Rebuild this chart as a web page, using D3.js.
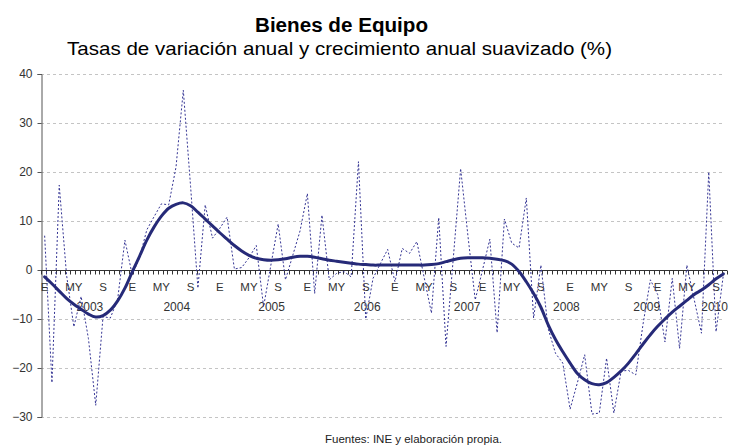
<!DOCTYPE html>
<html>
<head>
<meta charset="utf-8">
<script src="https://cdn.jsdelivr.net/npm/d3@7"></script>
<style>
  html, body { margin: 0; padding: 0; background: #ffffff; }
  svg { display: block; font-family: "Liberation Sans", Arial, sans-serif; }
</style>
</head>
<body>
<svg id="chart" width="730" height="446"></svg>
<script>
// ---------------- DATA ----------------
const startYear = 2003;
const nMonths = 94; // Jan 2003 .. Oct 2010
const categories = d3.range(nMonths).map(i => {
  const y = startYear + Math.floor(i / 12), m = (i % 12) + 1;
  return y + "-" + String(m).padStart(2, "0");
});

// Tasa de variación anual (mensual), %
const monthlyRate = [
   7.0, -23.0, 17.3, -1.0, -11.6, -5.4, -14.0, -27.6, -9.5, -9.8, -6.0, 6.1,
  -1.0,   2.5,  8.2, 10.9,  13.5, 13.3,  21.0,  36.7, 17.0, -3.7, 13.3, 6.5,
   8.5,  10.8,  0.2,  0.5,   2.5,  5.0,  -7.5,   1.0,  9.4, -2.0,  3.0, 8.0,
  15.6,  -4.8, 11.2, -2.0,  -0.7, -0.3,  -1.4,  22.1, -10.0, -1.7, 1.3, 4.2,
  -2.4,   4.4,  3.4,  5.8,  -1.5, -8.8,  10.7, -15.6,  2.5, 20.7,  7.0, -6.1,
   0.0,   6.3, -12.8, 10.4,  5.5,  4.5,  14.7,  -9.8,  1.0, -12.0, -17.0, -19.0,
 -28.4, -23.0, -17.3, -29.4, -29.2, -18.0, -29.2, -20.6, -20.5, -21.4, -11.0, -2.0,
  -5.0, -14.7,  -1.7, -16.0,  1.0,  -6.0, -12.9,  20.0, -12.6, -1.0
];

// Crecimiento anual suavizado, %
const smoothedRate = [
  -1.4, -2.8, -4.3, -5.8, -7.0, -8.0, -9.0, -9.6, -9.3, -8.2, -6.3, -3.7,
  -0.4,  2.8,  6.1,  8.8, 11.0, 12.6, 13.4, 13.7, 13.1, 11.8, 10.4,  9.0,
   7.6,  6.3,  5.0,  3.9,  3.0,  2.4,  2.1,  2.0,  2.1,  2.3,  2.6,  2.8,
   2.8,  2.6,  2.3,  2.0,  1.8,  1.6,  1.4,  1.2,  1.1,  1.0,  1.0,  1.0,
   1.0,  1.0,  1.0,  1.0,  1.0,  1.1,  1.3,  1.7,  2.1,  2.4,  2.5,  2.5,
   2.5,  2.4,  2.2,  1.9,  1.2, -0.3, -2.4, -4.8, -7.6, -11.2, -14.2, -16.7,
 -19.0, -21.1, -22.4, -23.2, -23.4, -23.0, -21.9, -20.6, -19.0, -17.1, -15.1, -13.2,
 -11.5, -10.0, -8.6, -7.4, -6.2, -5.0, -4.1, -3.0, -1.8, -0.8
];

const yTicks = [-30, -20, -10, 0, 10, 20, 30, 40];
const monthLabels = ["E", "MY", "S"];
const monthLabelIdx = [0, 4, 8];          // month of year for each label
const yearLabels = ["2003", "2004", "2005", "2006", "2007", "2008", "2009", "2010"];
const yearLabelMonth = [6.2, 18.1, 31.1, 44.2, 57.9, 71.5, 82.5, 91.8]; // where each year label sits (month index)

const titleText = "Bienes de Equipo";
const subtitleText = "Tasas de variación anual y crecimiento anual suavizado (%)";
const sourceText = "Fuentes: INE y elaboración propia.";

// ---------------- LAYOUT ----------------
const svg = d3.select("#chart");
const plotLeft = 41, plotRight = 727, plotTop = 74, plotBottom = 417;

const x = d3.scalePoint().domain(d3.range(nMonths)).range([plotLeft, plotRight]).padding(0.5);
const step = x.step();
const xf = v => plotLeft + (v + 0.5) * step; // fractional month index
const y = d3.scaleLinear().domain([-30, 40]).range([plotBottom, plotTop]);

// gridlines
svg.append("g").selectAll("line").data(yTicks.filter(t => t !== 0)).join("line")
  .attr("x1", plotLeft).attr("x2", plotRight - 2)
  .attr("y1", d => Math.round(y(d)) + 0.5).attr("y2", d => Math.round(y(d)) + 0.5)
  .attr("stroke", "#c4c4c4").attr("stroke-width", 1).attr("stroke-dasharray", "3,3");

// y axis
const yAxis = d3.axisLeft(y).tickValues(yTicks).tickSize(4).tickPadding(5);
const gy = svg.append("g").attr("transform", `translate(${plotLeft + 0.5},0)`).call(yAxis);
gy.select(".domain").attr("stroke", "#555").attr("stroke-width", 1);
gy.selectAll(".tick line").attr("stroke", "#555");
gy.selectAll(".tick text").attr("fill", "#333").style("font-size", "12px")
  .style("font-family", "'Liberation Sans', Arial, sans-serif");

// x axis at y=0, ticks every 2/3 month
const y0 = Math.round(y(0)) + 0.5;
const gx = svg.append("g");
gx.append("line").attr("x1", plotLeft).attr("x2", plotRight).attr("y1", y0).attr("y2", y0)
  .attr("stroke", "#333").attr("stroke-width", 1);
const tickStep = step * 2 / 3;
const nTicks = Math.round((plotRight - plotLeft) / tickStep);
gx.selectAll("line.xt").data(d3.range(nTicks + 1)).join("line").attr("class", "xt")
  .attr("x1", k => Math.round(plotLeft + k * tickStep) + 0.5)
  .attr("x2", k => Math.round(plotLeft + k * tickStep) + 0.5)
  .attr("y1", y0).attr("y2", y0 + 4).attr("stroke", "#333");

// month labels
const mlData = [];
for (let i = 0; i < nMonths; i++) {
  const k = monthLabelIdx.indexOf(i % 12);
  if (k >= 0) mlData.push({ i, t: monthLabels[k] });
}
gx.selectAll("text.ml").data(mlData).join("text").attr("class", "ml")
  .attr("x", d => x(d.i)).attr("y", 291).attr("text-anchor", "middle")
  .attr("fill", "#333").style("font-size", "11.5px").text(d => d.t);

gx.selectAll("text.yl").data(yearLabels).join("text").attr("class", "yl")
  .attr("x", (d, i) => xf(yearLabelMonth[i])).attr("y", 311).attr("text-anchor", "middle")
  .attr("fill", "#333").style("font-size", "12px").text(d => d);

// series
const lineMonthly = d3.line().x((d, i) => x(i)).y(d => y(d));
svg.append("path").datum(monthlyRate).attr("d", lineMonthly)
  .attr("fill", "none").attr("stroke", "#343494").attr("stroke-width", 1)
  .attr("stroke-dasharray", "2,2");

const lineSmooth = d3.line().x((d, i) => x(i)).y(d => y(d)).curve(d3.curveCatmullRom.alpha(0.5));
svg.append("path").datum(smoothedRate).attr("d", lineSmooth)
  .attr("fill", "none").attr("stroke", "#262a78").attr("stroke-width", 3)
  .attr("stroke-linejoin", "round").attr("stroke-linecap", "round");

// titles
svg.append("text").attr("x", 255).attr("y", 32)
  .attr("textLength", 173).attr("lengthAdjust", "spacingAndGlyphs")
  .style("font-size", "20px").style("font-weight", "bold").attr("fill", "#000").text(titleText);
svg.append("text").attr("x", 67).attr("y", 55)
  .attr("textLength", 545).attr("lengthAdjust", "spacingAndGlyphs")
  .style("font-size", "19px").attr("fill", "#000").text(subtitleText);
svg.append("text").attr("x", 325).attr("y", 443)
  .attr("textLength", 177).attr("lengthAdjust", "spacingAndGlyphs")
  .style("font-size", "11.5px").attr("fill", "#222").text(sourceText);
</script>
</body>
</html>
